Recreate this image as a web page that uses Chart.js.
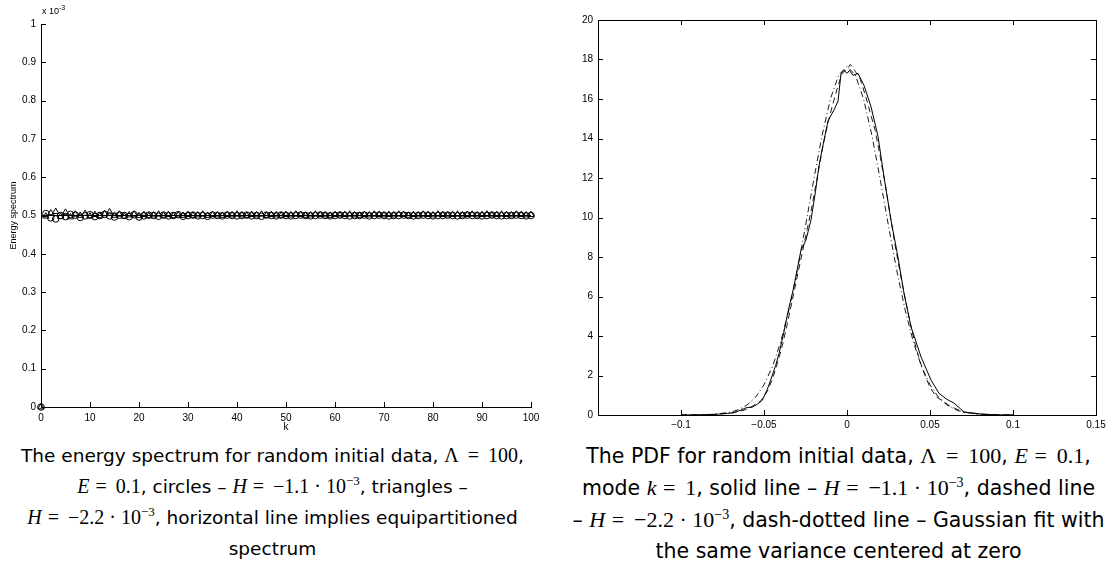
<!DOCTYPE html>
<html>
<head>
<meta charset="utf-8">
<script src="https://cdn.jsdelivr.net/npm/chart.js@4"></script>
<style>
  body { margin: 0; background: #fff; width: 1117px; height: 576px; position: relative; overflow: hidden; }
  .box { position: absolute; top: 0; height: 440px; }
  #leftBox { left: 0; width: 545px; }
  #rightBox { left: 560px; width: 557px; }
  .exp { position: absolute; left: 42px; top: 4px; font: 9px "Liberation Sans", sans-serif; }
  .exp sup { font-size: 7px; }
  .caption {
    position: absolute; top: 440px; text-align: center; white-space: nowrap;
    font: 18.5px "DejaVu Sans", sans-serif; line-height: 31px; color: #000;
  }
  .caption i, .caption .m { font-family: "Liberation Serif", serif; font-size: 20px; }
  .caption sup { font-size: 13px; line-height: 0; }
  #leftCap { left: 0; width: 545px; }
  #rightCap { left: 560px; width: 557px; font-size: 20.5px; }
  #rightCap i, #rightCap .m { font-size: 22px; }
  #rightCap sup { font-size: 14px; }
</style>
</head>
<body>
<div class="box" id="leftBox"><canvas id="energyChart" width="545" height="440"></canvas></div>
<div class="exp">x 10<sup>-3</sup></div>
<div class="box" id="rightBox"><canvas id="pdfChart" width="557" height="440"></canvas></div>

<div class="caption" id="leftCap">
  The energy spectrum for random initial data, <span class="m">Λ&thinsp; = &thinsp;100</span>,<br>
  <i>E</i> <span class="m">= &thinsp;0.1</span>, circles – <i>H</i> <span class="m">= &thinsp;−1.1 · 10<sup>−3</sup></span>, triangles –<br>
  <i>H</i> <span class="m">= &thinsp;−2.2 · 10<sup>−3</sup></span>, horizontal line implies equipartitioned<br>
  spectrum
</div>
<div class="caption" id="rightCap">
  The PDF for random initial data, <span class="m">Λ&thinsp; = &thinsp;100</span>, <i>E</i> <span class="m">= &thinsp;0.1</span>,<br>
  mode <i>k</i> <span class="m">= &thinsp;1</span>, solid line – <i>H</i> <span class="m">= &thinsp;−1.1 · 10<sup>−3</sup></span>, dashed line<br>
  – <i>H</i> <span class="m">= &thinsp;−2.2 · 10<sup>−3</sup></span>, dash-dotted line – Gaussian fit with<br>
  the same variance centered at zero
</div>

<script>
// energy spectrum (units of 1e-3)
const kValues = [
  0, 1, 2, 3, 4, 5, 6, 7, 8, 9, 10,
  11, 12, 13, 14, 15, 16, 17, 18, 19, 20,
  21, 22, 23, 24, 25, 26, 27, 28, 29, 30,
  31, 32, 33, 34, 35, 36, 37, 38, 39, 40,
  41, 42, 43, 44, 45, 46, 47, 48, 49, 50,
  51, 52, 53, 54, 55, 56, 57, 58, 59, 60,
  61, 62, 63, 64, 65, 66, 67, 68, 69, 70,
  71, 72, 73, 74, 75, 76, 77, 78, 79, 80,
  81, 82, 83, 84, 85, 86, 87, 88, 89, 90,
  91, 92, 93, 94, 95, 96, 97, 98, 99, 100
];
const circlesH11 = [
  0, 0.505, 0.494, 0.491, 0.500, 0.497, 0.503, 0.501, 0.495, 0.499, 0.502,
  0.497, 0.500, 0.503, 0.499, 0.496, 0.501, 0.500, 0.497, 0.502, 0.496,
  0.499, 0.501, 0.500, 0.498, 0.501, 0.499, 0.500, 0.502, 0.498, 0.500,
  0.501, 0.499, 0.500, 0.498, 0.501, 0.500, 0.499, 0.501, 0.500, 0.499,
  0.500, 0.501, 0.499, 0.500, 0.498, 0.501, 0.500, 0.499, 0.501, 0.500,
  0.499, 0.500, 0.501, 0.500, 0.499, 0.500, 0.501, 0.500, 0.499, 0.500,
  0.501, 0.500, 0.499, 0.500, 0.500, 0.501, 0.499, 0.500, 0.501, 0.500,
  0.499, 0.500, 0.500, 0.501, 0.500, 0.499, 0.500, 0.501, 0.500, 0.499,
  0.500, 0.500, 0.501, 0.500, 0.499, 0.500, 0.501, 0.500, 0.500, 0.499,
  0.500, 0.501, 0.500, 0.499, 0.500, 0.500, 0.501, 0.500, 0.499, 0.500
];
const trianglesH22 = [
  0, 0.498, 0.506, 0.510, 0.497, 0.508, 0.496, 0.503, 0.500, 0.505, 0.498,
  0.502, 0.499, 0.504, 0.509, 0.500, 0.503, 0.498, 0.501, 0.503, 0.499,
  0.502, 0.499, 0.501, 0.503, 0.500, 0.502, 0.499, 0.501, 0.500, 0.502,
  0.500, 0.501, 0.503, 0.500, 0.502, 0.501, 0.500, 0.502, 0.501, 0.503,
  0.501, 0.500, 0.502, 0.501, 0.503, 0.500, 0.502, 0.501, 0.500, 0.502,
  0.501, 0.503, 0.502, 0.500, 0.501, 0.503, 0.502, 0.501, 0.500, 0.502,
  0.501, 0.502, 0.503, 0.501, 0.500, 0.502, 0.501, 0.503, 0.502, 0.501,
  0.502, 0.501, 0.503, 0.502, 0.500, 0.502, 0.501, 0.503, 0.502, 0.501,
  0.503, 0.502, 0.501, 0.502, 0.503, 0.501, 0.502, 0.503, 0.501, 0.502,
  0.503, 0.501, 0.502, 0.503, 0.502, 0.501, 0.503, 0.502, 0.501, 0.502
];
const equiK = [0, 100];
const equiLevel = [0.5, 0.5];

const xTicksLeft = [0, 10, 20, 30, 40, 50, 60, 70, 80, 90, 100];
const yTicksLeft = [0, 0.1, 0.2, 0.3, 0.4, 0.5, 0.6, 0.7, 0.8, 0.9, 1];
const yTickLabelsLeft = ["0", "0.1", "0.2", "0.3", "0.4", "0.5", "0.6", "0.7", "0.8", "0.9", "1"];

// PDF of mode k = 1
const solidX = [
  -0.1, -0.085, -0.078, -0.072, -0.068, -0.064, -0.061, -0.057, -0.054, -0.051,
  -0.048, -0.046, -0.043, -0.041, -0.038, -0.0356, -0.032, -0.0277, -0.0247, -0.0217,
  -0.019, -0.0169, -0.0139, -0.0114, -0.0075, -0.0054, -0.0036, -0.0018, 0, 0.0015,
  0.0036, 0.0066, 0.0102, 0.0145, 0.0187, 0.0223, 0.0265, 0.0307, 0.0343, 0.0386,
  0.0446, 0.0506, 0.0554, 0.06, 0.0645, 0.0705, 0.081, 0.09, 0.1
];
const solidPdf = [
  0, 0.01, 0.04, 0.08, 0.12, 0.25, 0.36, 0.40, 0.55, 0.75,
  1.3, 1.77, 2.5, 3.1, 4.2, 5.2, 6.5, 8.35, 8.86, 9.87,
  11.3, 12.6, 13.9, 14.9, 15.5, 15.9, 17.3, 17.45, 17.3, 17.45,
  17.2, 17.3, 16.7, 15.6, 14.1, 12.05, 9.87, 8.0, 6.18, 4.46,
  2.94, 1.77, 1.1, 0.8, 0.6, 0.15, 0.05, 0.01, 0
];
const dashedX = [
  -0.1, -0.08, -0.07, -0.064, -0.06, -0.057, -0.052, -0.048, -0.045, -0.042,
  -0.039, -0.036, -0.033, -0.030, -0.027, -0.024, -0.021, -0.018, -0.015, -0.012,
  -0.009, -0.006, -0.003, 0, 0.002, 0.005, 0.008, 0.011, 0.014, 0.017,
  0.02, 0.023, 0.026, 0.029, 0.032, 0.035, 0.038, 0.041, 0.044, 0.047,
  0.05, 0.054, 0.058, 0.062, 0.066, 0.07, 0.08, 0.09, 0.1
];
const dashedPdf = [
  0, 0.03, 0.1, 0.2, 0.3, 0.45, 0.7, 1.2, 1.8, 2.6,
  3.5, 4.6, 5.8, 7.0, 8.2, 9.4, 10.6, 12.0, 13.4, 14.6,
  15.6, 16.5, 17.3, 17.5, 17.75, 17.4, 17.0, 16.2, 15.3, 14.4,
  13.1, 11.7, 10.1, 8.6, 7.2, 5.9, 4.7, 3.6, 2.7, 2.0,
  1.4, 0.9, 0.7, 0.45, 0.3, 0.15, 0.04, 0.01, 0
];
const gaussX = [
  -0.1, -0.09, -0.08, -0.07, -0.065, -0.06, -0.055, -0.05, -0.045, -0.04,
  -0.035, -0.03, -0.025, -0.02, -0.015, -0.01, -0.005, 0, 0.005, 0.01,
  0.015, 0.02, 0.025, 0.03, 0.035, 0.04, 0.045, 0.05, 0.055, 0.06,
  0.065, 0.07, 0.08, 0.09, 0.1
];
const gaussPdf = [
  0, 0.006, 0.034, 0.146, 0.28, 0.52, 0.91, 1.53, 2.43, 3.69,
  5.32, 7.31, 9.57, 11.93, 14.16, 16.0, 17.22, 17.65, 17.22, 16.0,
  14.16, 11.93, 9.57, 7.31, 5.32, 3.69, 2.43, 1.53, 0.91, 0.52,
  0.28, 0.146, 0.034, 0.006, 0
];

const xTicksRight = [-0.1, -0.05, 0, 0.05, 0.1, 0.15];
const xTickLabelsRight = ["\u22120.1", "\u22120.05", "0", "0.05", "0.1", "0.15"];
const yTicksRight = [0, 2, 4, 6, 8, 10, 12, 14, 16, 18, 20];

const tickFont = { family: "Liberation Sans", size: 10 };

function toPoints(xs, ys) {
  return xs.map((x, i) => ({ x: x, y: ys[i] }));
}

// MATLAB style inward ticks (and optional box)
const inwardTicks = {
  id: "inwardTicks",
  afterDatasetsDraw(chart, args, opts) {
    const { ctx, chartArea: a, scales } = chart;
    const len = opts.len || 5;
    ctx.save();
    ctx.strokeStyle = "#000";
    ctx.lineWidth = 1;
    ctx.beginPath();
    scales.x.ticks.forEach((t, i) => {
      const px = Math.round(scales.x.getPixelForTick(i)) + 0.5;
      ctx.moveTo(px, a.bottom);
      ctx.lineTo(px, a.bottom - len);
      if (opts.box) {
        ctx.moveTo(px, a.top);
        ctx.lineTo(px, a.top + len);
      }
    });
    scales.y.ticks.forEach((t, i) => {
      const py = Math.round(scales.y.getPixelForTick(i)) + 0.5;
      ctx.moveTo(a.left, py);
      ctx.lineTo(a.left + len, py);
      if (opts.box) {
        ctx.moveTo(a.right, py);
        ctx.lineTo(a.right - len, py);
      }
    });
    ctx.stroke();
    if (opts.box) {
      ctx.strokeRect(Math.round(a.left) + 0.5, Math.round(a.top) + 0.5,
        Math.round(a.right - a.left), Math.round(a.bottom - a.top));
    }
    ctx.restore();
  }
};

const axisGrid = { display: true, drawOnChartArea: false, drawTicks: false };
const axisBorder = { display: true, color: "#000", width: 1 };

new Chart(document.getElementById("energyChart"), {
  type: "scatter",
  data: {
    datasets: [
      {
        label: "equipartition",
        data: toPoints(equiK, equiLevel),
        showLine: true,
        borderColor: "#000",
        borderWidth: 1.2,
        pointRadius: 0
      },
      {
        label: "circles",
        data: toPoints(kValues, circlesH11),
        pointStyle: "circle",
        pointRadius: 3.3,
        borderColor: "#000",
        backgroundColor: "rgba(0,0,0,0)",
        pointBorderWidth: 1
      },
      {
        label: "triangles",
        data: toPoints(kValues, trianglesH22),
        pointStyle: "triangle",
        pointRadius: 3.6,
        borderColor: "#000",
        backgroundColor: "rgba(0,0,0,0)",
        pointBorderWidth: 1
      }
    ]
  },
  options: {
    responsive: false,
    animation: false,
    clip: false,
    layout: { padding: { left: 0, right: 14, top: 24, bottom: 0 } },
    plugins: { legend: { display: false }, tooltip: { enabled: false }, inwardTicks: { len: 5 } },
    scales: {
      x: {
        type: "linear", min: 0, max: 100,
        afterBuildTicks: s => { s.ticks = xTicksLeft.map(v => ({ value: v })); },
        afterFit: s => { s.height = 33; },
        grid: axisGrid, border: axisBorder,
        ticks: { color: "#000", font: tickFont, padding: 5, maxRotation: 0, callback: v => String(v) },
        title: { display: true, text: "k", color: "#000", font: tickFont, padding: { top: 0, bottom: 7 } }
      },
      y: {
        type: "linear", min: 0, max: 1,
        afterBuildTicks: s => { s.ticks = yTicksLeft.map(v => ({ value: v })); },
        afterFit: s => { s.width = 41; },
        grid: axisGrid, border: axisBorder,
        ticks: { color: "#000", font: tickFont, padding: 5, callback: (v, i) => yTickLabelsLeft[i] },
        title: { display: true, text: "Energy spectrum", color: "#000", font: { family: "Liberation Sans", size: 9 }, padding: { top: 8, bottom: 0 } }
      }
    }
  },
  plugins: [inwardTicks]
});

new Chart(document.getElementById("pdfChart"), {
  type: "scatter",
  data: {
    datasets: [
      {
        label: "Gaussian fit",
        data: toPoints(gaussX, gaussPdf),
        showLine: true, pointRadius: 0,
        borderColor: "#000", borderWidth: 0.9,
        borderDash: [6, 3, 1, 3]
      },
      {
        label: "H = -2.2e-3",
        data: toPoints(dashedX, dashedPdf),
        showLine: true, pointRadius: 0,
        borderColor: "#000", borderWidth: 0.9,
        borderDash: [6, 4]
      },
      {
        label: "H = -1.1e-3",
        data: toPoints(solidX, solidPdf),
        showLine: true, pointRadius: 0,
        borderColor: "#000", borderWidth: 1
      }
    ]
  },
  options: {
    responsive: false,
    animation: false,
    layout: { padding: { left: 0, right: 21, top: 20, bottom: 0 } },
    plugins: { legend: { display: false }, tooltip: { enabled: false }, inwardTicks: { len: 5, box: true } },
    scales: {
      x: {
        type: "linear", min: -0.15, max: 0.15,
        afterBuildTicks: s => { s.ticks = xTicksRight.map(v => ({ value: v })); },
        afterFit: s => { s.height = 25; },
        grid: axisGrid, border: axisBorder,
        ticks: { color: "#000", font: tickFont, padding: 4, maxRotation: 0, callback: (v, i) => xTickLabelsRight[i] }
      },
      y: {
        type: "linear", min: 0, max: 20,
        afterBuildTicks: s => { s.ticks = yTicksRight.map(v => ({ value: v })); },
        afterFit: s => { s.width = 38; },
        grid: axisGrid, border: axisBorder,
        ticks: { color: "#000", font: tickFont, padding: 5, callback: v => String(v) }
      }
    }
  },
  plugins: [inwardTicks]
});
</script>
</body>
</html>
